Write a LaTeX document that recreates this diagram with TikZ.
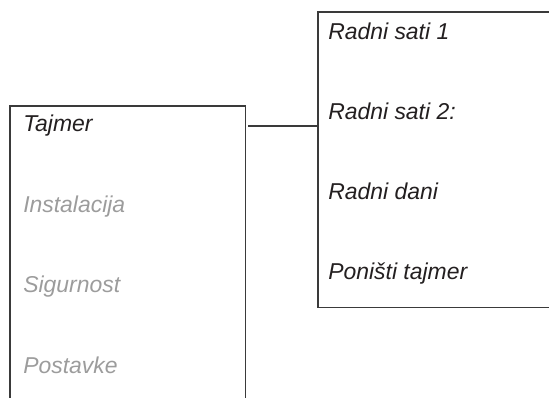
\documentclass[tikz,border=0pt]{standalone}
\usepackage{fontspec}
\setmainfont{Liberation Sans}
\usepackage{tikz}
\usetikzlibrary{positioning, calc}
\usepackage{xcolor}
\definecolor{menuline}{HTML}{3A3A3A}
\definecolor{menutext}{HTML}{231F20}
\definecolor{menugray}{HTML}{9C9C9C}
\tikzset{
  menubox/.style={
    rectangle, anchor=north west, inner sep=0pt
  },
  boxline/.style={draw=menuline, line width=1pt},
  item/.style={
    anchor=base west, inner sep=0pt,
    font=\fontsize{17.2}{20}\selectfont\itshape, text=menutext
  },
  itemoff/.style={item, text=menugray},
  link/.style={draw=menuline, line width=1pt, shorten <=2pt}
}

\begin{document}
\begin{tikzpicture}[x=0.75pt, y=-0.75pt]

% ── Frame (boxes run past the edges) ────────────────────────
\useasboundingbox (0,0) rectangle (549,397);
\clip (0,0) rectangle (549,397);

% ── Main menu box (open at the bottom) ──────────────────────
\node[menubox, minimum width=176.25pt, minimum height=260pt]
  (mainmenu) at (10,106) {};
\draw[boxline] (mainmenu.south west) -- (mainmenu.north west)
  -- (mainmenu.north east) -- (mainmenu.south east);

\node[item]    (tajmer) at (23,131) {Tajmer};
\node[itemoff] (instal) at ($(tajmer.base west)+(0,81)$) {Instalacija};
\node[itemoff] (sigur)  at ($(instal.base west)+(0,80)$) {Sigurnost};
\node[itemoff] (postav) at ($(sigur.base west)+(0,81)$)  {Postavke};

% ── Timer submenu box (open at the right) ───────────────────
\node[menubox, minimum width=260pt, minimum height=221.25pt]
  (submenu) at (318,12) {};
\draw[boxline] (submenu.north east) -- (submenu.north west)
  -- (submenu.south west) -- (submenu.south east);

\node[item] (sati1)  at (328,39) {Radni sati 1};
\node[item] (sati2)  at ($(sati1.base west)+(0,80)$) {Radni sati 2:};
\node[item] (dani)   at ($(sati2.base west)+(0,80)$) {Radni dani};
\node[item] (ponist) at ($(dani.base west)+(0,80)$)  {Poništi tajmer};

% ── Link main menu -> submenu ───────────────────────────────
\coordinate (join) at (0,126);
\draw[link] (join -| mainmenu.east) -- (join -| submenu.west);

\end{tikzpicture}
\end{document}
